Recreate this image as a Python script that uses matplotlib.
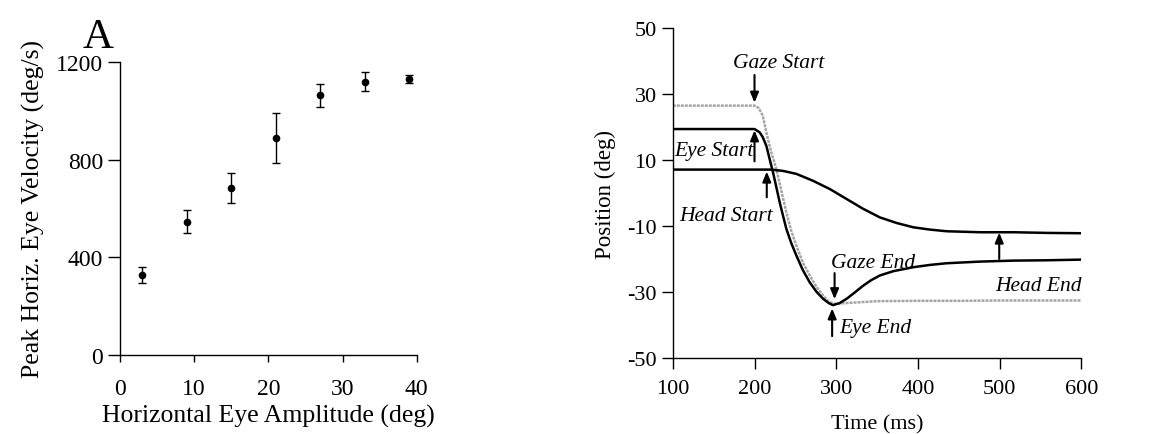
import matplotlib
matplotlib.use("Agg")
import matplotlib.pyplot as plt
import numpy as np

plt.rcParams['font.family'] = ['Liberation Serif', 'DejaVu Serif']
plt.rcParams['axes.unicode_minus'] = False

# Panel A data
amplitude = [3, 9, 15, 21, 27, 33, 39]
peak_vel = [327, 546, 684, 888, 1063, 1119, 1129]
vel_err = [33, 48, 60, 103, 46, 39, 16]

# Panel B data
gaze_t = [100, 150, 200, 205, 210, 214.5, 220, 226.7, 233, 239, 245, 251.3, 259, 267.6, 276, 284, 291, 298, 350, 400, 450, 500, 550, 600]
gaze_pos = [26.5, 26.5, 26.5, 25.8, 23.5, 18.4, 12.8, 7.3, 0.5, -5.9, -11.5, -16, -21, -25, -28.5, -31.1, -33, -33.6, -32.8, -32.7, -32.7, -32.6, -32.6, -32.6]
eye_t = [100, 150, 200, 206.3, 210, 214.5, 218, 222.6, 226.7, 230.8, 235, 239, 245, 251.3, 259, 267.6, 276, 284, 291, 296, 304, 312.6, 322, 333, 343, 353.5, 370, 394.4, 415, 435.2, 476, 517, 558, 600]
eye_pos = [19.4, 19.4, 19.4, 18.4, 17.0, 14.3, 10.8, 6.3, 1.8, -2.8, -7.0, -10.9, -15.2, -19, -23.3, -27.1, -30.0, -32.1, -33.4, -34.0, -33.4, -32.1, -30.3, -28.1, -26.4, -25, -23.7, -22.5, -21.8, -21.3, -20.8, -20.5, -20.4, -20.2]
head_t = [100, 150, 200, 220, 235, 251.3, 271.7, 292.2, 312.6, 333, 353.5, 374, 394.4, 414.8, 435.2, 476, 517, 558, 600]
head_pos = [7.1, 7.1, 7.1, 7.1, 6.7, 5.8, 3.7, 1.2, -1.8, -4.8, -7.4, -9.1, -10.4, -11.1, -11.6, -11.9, -11.9, -12.1, -12.2]

# annotations: label, text x, text y, ha, arrow x, arrow tail y, arrow tip y
ann_labels = ["Gaze Start", "Eye Start", "Head Start", "Gaze End", "Eye End", "Head End"]
ann_text_x = [229, 102, 165, 345, 304, 601]
ann_text_y = [39.6, 12.8, -6.9, -21, -40.7, -27.9]
ann_ha = ["center", "left", "center", "center", "left", "right"]
ann_arrow_x = [200, 200, 215, 298, 295, 499.5]
ann_arrow_from = [35.8, 9.6, -1.3, -24.3, -43.4, -20.0]
ann_arrow_to = [27.4, 19.0, 6.5, -32.2, -35.0, -12.0]

fig = plt.figure(figsize=(11.64, 4.35), dpi=100)

# Panel A
ax1 = fig.add_axes([0.103, 0.182, 0.255, 0.673])
ax1.errorbar(amplitude, peak_vel, yerr=vel_err, fmt='o', color='black',
             ms=4.5, capsize=3, elinewidth=1.0, capthick=1.0)
ax1.set_xlim(0, 40)
ax1.set_ylim(0, 1200)
ax1.set_xticks([0, 10, 20, 30, 40])
ax1.set_yticks([0, 400, 800, 1200])
for s in ['top', 'right']:
    ax1.spines[s].set_visible(False)
ax1.spines['left'].set_linewidth(1.0)
ax1.spines['bottom'].set_linewidth(1.0)
ax1.tick_params(axis='y', direction='out', length=9, width=1.0, labelsize=17, pad=3)
ax1.tick_params(axis='x', direction='out', length=5, width=1.0, labelsize=17, pad=12)
ax1.set_xlabel("Horizontal Eye Amplitude (deg)", fontsize=18.5, labelpad=3)
ax1.set_ylabel("Peak Horiz. Eye Velocity (deg/s)", fontsize=18.5, labelpad=8)
fig.text(0.071, 0.89, "A", fontsize=31, ha='left', va='baseline')

# Panel B
ax2 = fig.add_axes([0.578, 0.175, 0.351, 0.758])
ax2.plot(gaze_t, gaze_pos, color='#a5a5a5', lw=1.8, ls=(0, (1.2, 0.4)))
ax2.plot(eye_t, eye_pos, color='black', lw=1.8)
ax2.plot(head_t, head_pos, color='black', lw=1.8)
ax2.set_xlim(100, 600)
ax2.set_ylim(-50, 50)
ax2.set_xticks([100, 200, 300, 400, 500, 600])
ax2.set_yticks([50, 30, 10, -10, -30, -50])
for s in ['top', 'right']:
    ax2.spines[s].set_visible(False)
ax2.spines['left'].set_linewidth(1.0)
ax2.spines['bottom'].set_linewidth(1.0)
ax2.tick_params(axis='both', direction='out', length=8, width=1.0, labelsize=16)
ax2.tick_params(axis='x', pad=7)
ax2.set_xlabel("Time (ms)", fontsize=16, labelpad=12)
ax2.set_ylabel("Position (deg)", fontsize=16.5, labelpad=8)

for lab, tx, ty, ha, axx, yf, yt in zip(ann_labels, ann_text_x, ann_text_y, ann_ha,
                                        ann_arrow_x, ann_arrow_from, ann_arrow_to):
    ax2.text(tx, ty, lab, fontsize=15.5, style='italic', ha=ha, va='center')
    ax2.annotate("", xy=(axx, yt), xytext=(axx, yf),
                 arrowprops=dict(arrowstyle='-|>,head_width=0.25,head_length=0.6',
                                 color='black', lw=1.5, shrinkA=0, shrinkB=0))

fig.savefig("out.png", dpi=100)
